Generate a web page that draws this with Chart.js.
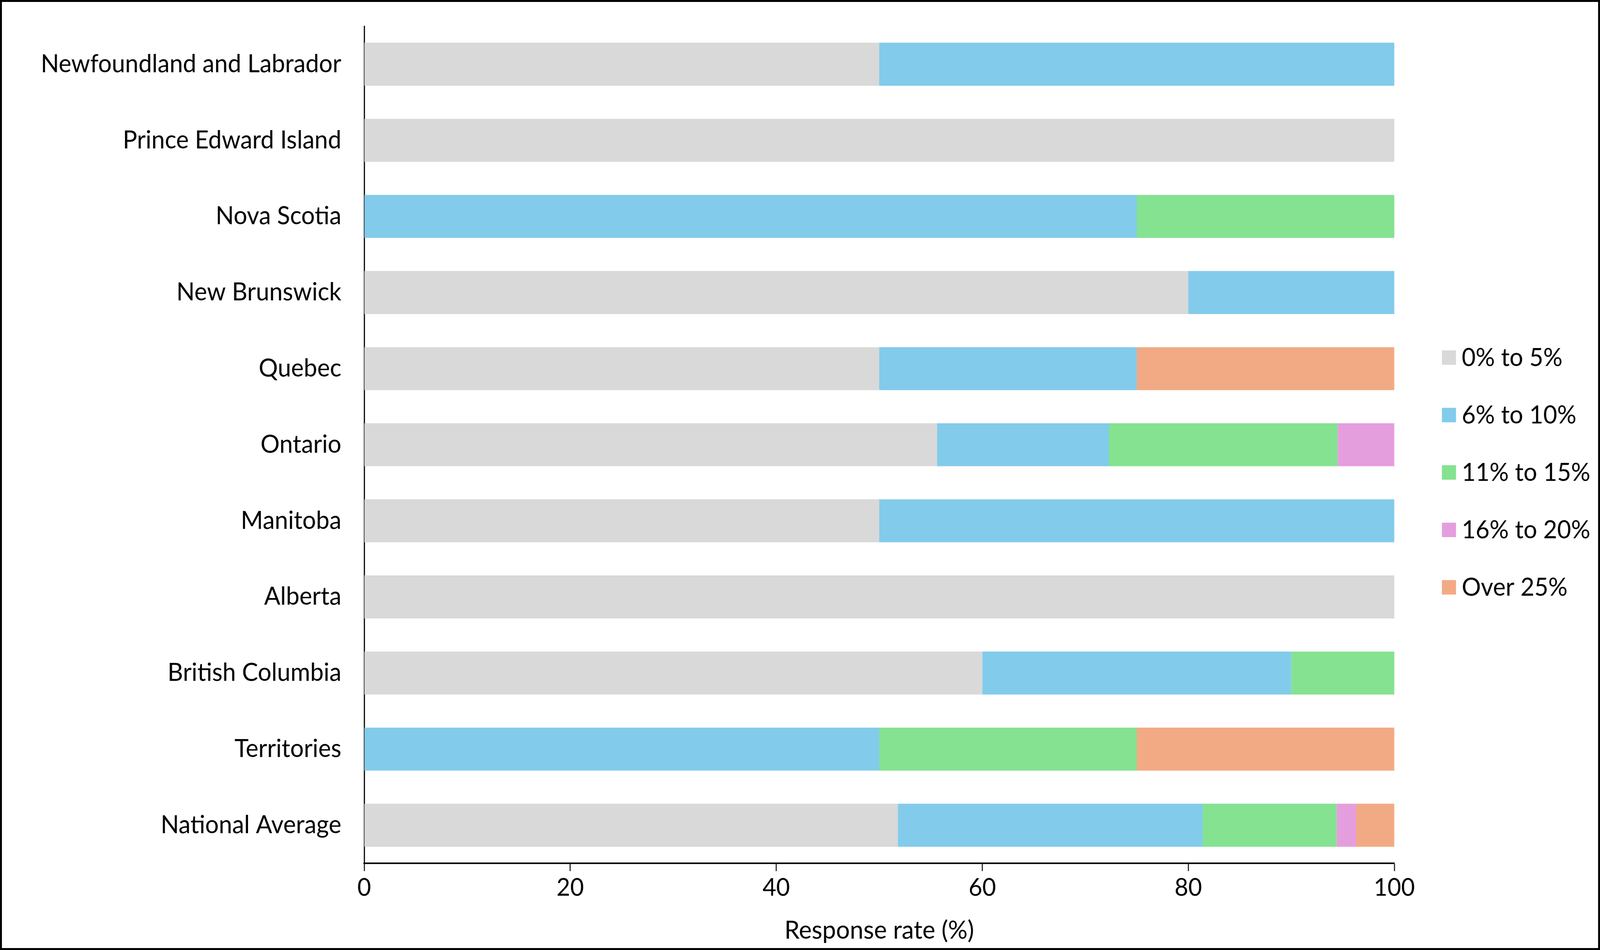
<!DOCTYPE html>
<html>
<head>
<meta charset="utf-8">
<script src="https://cdn.jsdelivr.net/npm/chart.js@4.4.1/dist/chart.umd.min.js"></script>
<style>
  html, body { margin: 0; padding: 0; background: #fff; overflow: hidden; }
  #myChart { display: block; }
</style>
</head>
<body>
<canvas id="myChart" width="4200" height="2432" style="width: 100vw; height: 100vh;"></canvas>
<script>
var provinces = ['Newfoundland and Labrador', 'Prince Edward Island', 'Nova Scotia', 'New Brunswick',
    'Quebec', 'Ontario', 'Manitoba', 'Alberta', 'British Columbia', 'Territories', 'National Average'];
var bandLabels = ['0% to 5%', '6% to 10%', '11% to 15%', '16% to 20%', 'Over 25%'];
var bandColors = ['#D9D9D9', '#83CBEB', '#85E291', '#E59EDD', '#F2AA84'];

// share of respondents (%) in each band, one value per province
var band0to5   = [50, 100, 0, 80, 50, 55.6, 50, 100, 60, 0, 51.8];
var band6to10  = [50, 0, 75, 20, 25, 16.7, 50, 0, 30, 50, 29.6];
var band11to15 = [0, 0, 25, 0, 0, 22.2, 0, 0, 10, 25, 13.0];
var band16to20 = [0, 0, 0, 0, 0, 5.5, 0, 0, 0, 0, 1.9];
var bandOver25 = [0, 0, 0, 0, 25, 0, 0, 0, 0, 25, 3.7];

var xTicks = [0, 20, 40, 60, 80, 100];

var fontFam = 'Lato, "Liberation Sans", sans-serif';

// white page with the thin black frame round it
var frame = {
    id: 'frame',
    beforeDraw: function (chart) {
        var ctx = chart.ctx;
        ctx.save();
        ctx.fillStyle = '#fff';
        ctx.fillRect(0, 0, chart.width, chart.height);
        ctx.strokeStyle = '#000';
        ctx.lineWidth = 5;
        ctx.strokeRect(2.5, 2.5, chart.width - 5, chart.height - 5);
        ctx.restore();
    }
};

// legend drawn by hand so it can sit apart from the plot like the original
var sideLegend = {
    id: 'sideLegend',
    afterDraw: function (chart) {
        var ctx = chart.ctx;
        var x0 = chart.chartArea.right + 125;
        ctx.save();
        ctx.font = '63px ' + fontFam;
        ctx.textBaseline = 'middle';
        ctx.textAlign = 'left';
        chart.data.datasets.forEach(function (ds, i) {
            var y = 915 + i * 147;
            ctx.fillStyle = ds.backgroundColor;
            ctx.fillRect(x0, y - 18, 37, 37);
            ctx.fillStyle = '#000';
            ctx.fillText(ds.label, x0 + 52, y + 2);
        });
        ctx.restore();
    }
};

var series = [band0to5, band6to10, band11to15, band16to20, bandOver25];
var datasets = [];
for (let i = 0; i < series.length; i++) {
    datasets.push({
        label: bandLabels[i],
        data: series[i],
        backgroundColor: bandColors[i],
        borderWidth: 0,
        barPercentage: 0.565,
        categoryPercentage: 1.0
    });
}

var ctx = document.getElementById('myChart');
var chart = new Chart(ctx, {
    type: 'bar',
    data: {
        labels: provinces,
        datasets: datasets
    },
    options: {
        indexAxis: 'y',
        responsive: false,
        devicePixelRatio: 1,
        animation: false,
        layout: { padding: { left: 5, right: 540, top: 67, bottom: 5 } },
        scales: {
            x: {
                stacked: true,
                min: 0,
                max: 100,
                afterBuildTicks: function (scale) {
                    scale.ticks = xTicks.map(function (v) { return { value: v }; });
                },
                afterFit: function (scale) { scale.height = 217; },
                grid: {
                    display: true,
                    drawOnChartArea: false,
                    drawTicks: true,
                    tickLength: 20,
                    tickColor: '#000',
                    tickWidth: 2.5
                },
                border: { display: true, color: '#000', width: 4 },
                ticks: {
                    color: '#000',
                    padding: 6,
                    maxRotation: 0,
                    font: { family: fontFam, size: 62 }
                },
                title: {
                    display: true,
                    text: 'Response rate (%)',
                    color: '#000',
                    padding: { top: 0, bottom: 6 },
                    font: { family: fontFam, size: 64 }
                }
            },
            y: {
                stacked: true,
                afterFit: function (scale) {
                    scale.width = 951;
                    // keep the label padding from pushing the plot down
                    scale.paddingTop = 0;
                    scale.paddingBottom = 0;
                },
                grid: { display: false, drawTicks: false },
                border: { display: true, color: '#000', width: 3 },
                ticks: {
                    color: '#000',
                    padding: 60,
                    font: { family: fontFam, size: 63 }
                }
            }
        },
        plugins: {
            legend: { display: false },
            tooltip: { enabled: false }
        }
    },
    plugins: [frame, sideLegend]
});
</script>
</body>
</html>
